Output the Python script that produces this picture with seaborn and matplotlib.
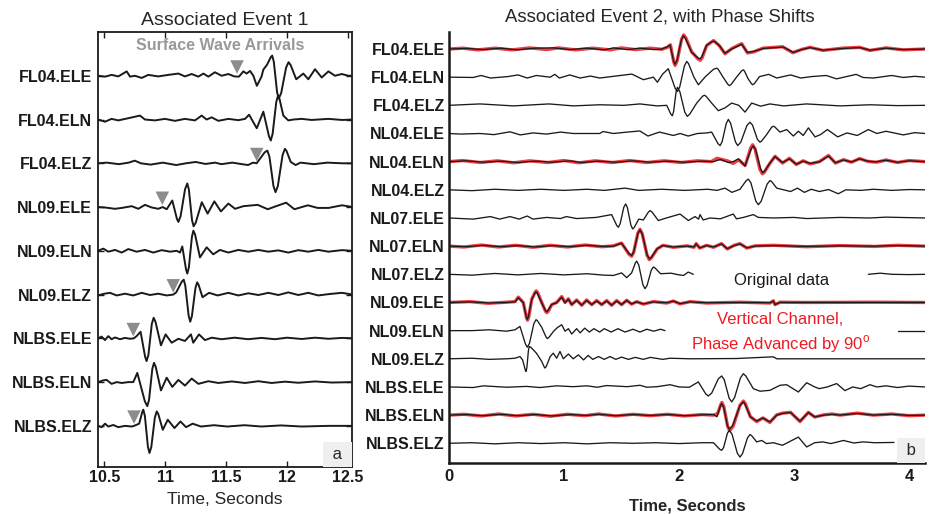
import matplotlib
matplotlib.use("Agg")
import matplotlib.pyplot as plt
from matplotlib.offsetbox import AnchoredText
import pandas as pd
import seaborn as sns

# ---------------------------------------------------------------- data
# Event 1 (panel a): channel names, top to bottom
E1_NAMES = ["FL04.ELE", "FL04.ELN", "FL04.ELZ", "NL09.ELE", "NL09.ELN",
            "NL09.ELZ", "NLBS.ELE", "NLBS.ELN", "NLBS.ELZ"]
# traces: (time s, amplitude in trace-spacing units, positive = up)
E1_FL04_ELE = [(10.45, 0), (10.506, -0.02), (10.56, 0.02), (10.615, -0.015), (10.684, 0.1), (10.711, -0.02),
               (10.752, 0), (10.807, -0.05), (10.861, 0.02), (10.943, -0.015), (11.025, 0.02), (11.108, 0.05),
               (11.162, -0.015), (11.217, 0.04), (11.272, -0.02), (11.313, 0.05), (11.354, -0.02), (11.408, 0.08),
               (11.463, 0), (11.518, 0.04), (11.567, -0.015), (11.605, -0.02), (11.641, 0.1), (11.668, 0.05),
               (11.696, 0.11), (11.723, 0), (11.752, -0.23), (11.79, -0.02), (11.805, 0.14), (11.835, 0.25),
               (11.867, 0.43), (11.878, 0.46), (11.891, 0.32), (11.918, -0.38), (11.931, -0.52), (11.951, -0.40),
               (11.992, 0.19), (12.012, 0.31), (12.028, 0.25), (12.075, -0.08), (12.133, 0.05), (12.174, -0.08),
               (12.229, 0.15), (12.284, -0.04), (12.339, 0.1), (12.393, 0), (12.448, 0.04), (12.503, 0), (12.54, 0)]
E1_FL04_ELN = [(10.45, 0), (10.506, -0.05), (10.56, 0.015), (10.615, -0.02), (10.697, 0.03), (10.793, 0.09),
               (10.834, 0), (10.916, -0.02), (10.998, 0.015), (11.08, -0.03), (11.162, 0.015), (11.244, -0.02),
               (11.299, 0.09), (11.34, 0), (11.381, 0.05), (11.436, -0.03), (11.518, 0.015), (11.6, -0.015),
               (11.655, 0.015), (11.688, 0.11), (11.751, -0.2), (11.805, 0.18), (11.851, -0.38), (11.866, -0.48),
               (11.881, -0.33), (11.911, 0.40), (11.926, 0.55), (11.937, 0.48), (11.969, 0.09), (12.01, -0.02),
               (12.052, 0.0), (12.12, 0.015), (12.202, -0.01), (12.339, 0.015), (12.45, -0.01), (12.54, 0)]
E1_FL04_ELZ = [(10.45, 0), (10.52, 0.015), (10.62, -0.02), (10.70, 0.015), (10.75, 0.06), (10.80, 0),
               (10.88, -0.03), (10.98, 0.015), (11.09, -0.04), (11.17, 0), (11.25, 0.03), (11.33, -0.015),
               (11.41, 0.015), (11.46, -0.02), (11.55, 0.015), (11.63, -0.02), (11.68, -0.04), (11.72, 0.015),
               (11.75, 0.0), (11.816, 0.25), (11.838, 0.29), (11.855, 0.15), (11.888, -0.52), (11.905, -0.66),
               (11.924, -0.52), (11.963, 0.19), (11.982, 0.33), (11.994, 0.29), (12.03, 0.03), (12.07, -0.04),
               (12.11, 0.015), (12.22, -0.02), (12.33, 0.015), (12.45, 0), (12.54, 0)]
E1_NL09_ELE = [(10.45, 0), (10.506, -0.01), (10.588, -0.04), (10.643, -0.02), (10.725, 0.02), (10.779, -0.04),
               (10.834, 0.05), (10.889, -0.01), (10.943, -0.04), (10.979, 0), (11.012, -0.05), (11.058, 0.15),
               (11.096, -0.27), (11.108, -0.34), (11.126, -0.21), (11.163, 0.41), (11.181, 0.54), (11.194, 0.40),
               (11.22, -0.30), (11.233, -0.44), (11.25, -0.36), (11.30, 0.11), (11.348, -0.15), (11.403, 0.13),
               (11.457, -0.1), (11.518, 0.08), (11.573, -0.04), (11.641, 0.02), (11.759, 0.05), (11.841, -0.05),
               (11.91, 0.02), (11.992, 0.1), (12.06, -0.05), (12.17, 0.04), (12.25, -0.02), (12.34, -0.02),
               (12.45, 0.04), (12.54, 0)]
E1_NL09_ELN = [(10.45, 0), (10.492, 0.05), (10.533, -0.02), (10.588, 0.02), (10.643, -0.04), (10.697, 0.04),
               (10.765, -0.02), (10.834, 0.02), (10.902, -0.04), (10.971, 0.015), (11.039, -0.02), (11.094, 0),
               (11.121, -0.04), (11.14, 0.1), (11.171, -0.43), (11.181, -0.52), (11.194, -0.38), (11.219, 0.32),
               (11.231, 0.46), (11.245, 0.37), (11.285, -0.15), (11.34, 0.08), (11.394, -0.08), (11.449, 0.02),
               (11.518, -0.04), (11.6, 0.02), (11.682, -0.02), (11.764, 0.02), (11.846, -0.02), (11.928, 0.01),
               (12.01, -0.04), (12.092, 0.015), (12.174, -0.02), (12.256, 0.02), (12.339, -0.02), (12.448, 0.015),
               (12.54, 0)]
E1_NL09_ELZ = [(10.45, -0.02), (10.492, 0.015), (10.546, 0.04), (10.602, -0.02), (10.67, 0.02), (10.738, -0.02),
               (10.807, 0.04), (10.875, -0.01), (10.943, 0.02), (11.012, -0.02), (11.066, 0), (11.09, 0.05),
               (11.137, 0.30), (11.152, 0.34), (11.165, 0.20), (11.192, -0.48), (11.205, -0.62), (11.219, -0.49),
               (11.248, 0.15), (11.262, 0.28), (11.273, 0.23), (11.306, -0.06), (11.36, 0.04), (11.43, -0.02),
               (11.518, 0.04), (11.6, -0.02), (11.682, 0.03), (11.764, -0.01), (11.846, 0.04), (11.928, -0.01),
               (12.01, 0.05), (12.092, -0.01), (12.174, 0.04), (12.256, -0.02), (12.339, 0.01), (12.448, 0.04),
               (12.54, 0)]
E1_NLBS_ELE = [(10.45, 0), (10.478, 0.04), (10.506, -0.04), (10.533, 0.05), (10.56, -0.02), (10.588, 0.02),
               (10.629, -0.02), (10.67, 0.01), (10.711, -0.01), (10.743, 0), (10.765, 0.05), (10.798, 0.15),
               (10.835, -0.42), (10.847, -0.52), (10.862, -0.38), (10.89, 0.33), (10.905, 0.47), (10.92, 0.38),
               (10.965, -0.16), (11.003, 0.09), (11.053, -0.1), (11.108, -0.01), (11.162, -0.06), (11.211, 0.09),
               (11.23, -0.1), (11.277, 0.09), (11.326, -0.04), (11.381, 0.015), (11.463, -0.02), (11.57, 0.015),
               (11.68, -0.02), (11.79, 0.01), (11.9, -0.02), (12.0, 0.015), (12.12, -0.015), (12.23, 0.015),
               (12.34, -0.01), (12.45, 0.01), (12.54, 0)]
E1_NLBS_ELN = [(10.45, 0), (10.492, 0.04), (10.519, 0.05), (10.56, -0.04), (10.602, 0), (10.643, -0.02),
               (10.697, 0), (10.738, 0), (10.771, 0.21), (10.833, -0.44), (10.853, -0.55), (10.867, -0.41),
               (10.894, 0.30), (10.908, 0.44), (10.922, 0.35), (10.965, -0.19), (11.012, 0.1), (11.058, -0.11),
               (11.108, 0.05), (11.162, -0.08), (11.217, 0.08), (11.272, -0.04), (11.354, 0.02), (11.436, -0.02),
               (11.546, 0.015), (11.655, -0.02), (11.764, 0.02), (11.873, -0.02), (11.982, 0.01), (12.092, -0.015),
               (12.229, 0.015), (12.366, -0.01), (12.54, 0)]
E1_NLBS_ELZ = [(10.45, 0), (10.478, -0.03), (10.506, 0.05), (10.533, -0.015), (10.574, 0.02), (10.615, -0.03),
               (10.67, 0), (10.725, -0.015), (10.744, 0), (10.786, 0.05), (10.812, 0.32), (10.82, 0.37),
               (10.833, 0.23), (10.858, -0.48), (10.871, -0.62), (10.886, -0.48), (10.915, 0.19), (10.93, 0.33),
               (10.943, 0.27), (10.98, -0.09), (11.021, 0.14), (11.076, -0.05), (11.125, 0.1), (11.171, -0.03),
               (11.225, 0.05), (11.293, -0.015), (11.4, 0.015), (11.51, -0.015), (11.65, 0.015), (11.79, -0.015),
               (11.95, 0.01), (12.12, -0.015), (12.34, 0), (12.54, 0)]
E1_TRACES = [E1_FL04_ELE, E1_FL04_ELN, E1_FL04_ELZ, E1_NL09_ELE, E1_NL09_ELN,
             E1_NL09_ELZ, E1_NLBS_ELE, E1_NLBS_ELN, E1_NLBS_ELZ]
# surface-wave arrival picks: (channel, time s)
E1_PICK_CHANNELS = ["FL04.ELE", "FL04.ELZ", "NL09.ELE", "NL09.ELZ", "NLBS.ELE", "NLBS.ELZ"]
E1_PICK_TIMES = [11.589, 11.751, 10.976, 11.066, 10.738, 10.744]
E1_TICKS = [10.5, 11, 11.5, 12, 12.5]
E1_TICK_LABELS = ["10.5", "11", "11.5", "12", "12.5"]

# Event 2 (panel b)
E2_NAMES = ["FL04.ELE", "FL04.ELN", "FL04.ELZ", "NL04.ELE", "NL04.ELN", "NL04.ELZ",
            "NL07.ELE", "NL07.ELN", "NL07.ELZ", "NL09.ELE", "NL09.ELN", "NL09.ELZ",
            "NLBS.ELE", "NLBS.ELN", "NLBS.ELZ"]
E2_FL04_ELE = [(0, 0), (0.15, 0.02), (0.3, -0.02), (0.45, 0.03), (0.59, -0.03), (0.75, 0.03), (0.91, 0.04),
               (1.05, -0.02), (1.2, 0.03), (1.35, -0.03), (1.43, 0.04), (1.55, -0.02), (1.66, 0.03), (1.78, -0.02),
               (1.85, 0.0), (1.893, 0.07), (1.922, 0.14), (1.954, -0.44), (1.965, -0.54), (1.983, -0.39),
               (2.02, 0.32), (2.038, 0.47), (2.056, 0.38), (2.11, -0.12), (2.165, -0.32), (2.183, -0.35),
               (2.198, -0.28), (2.241, 0.14), (2.285, 0.26), (2.299, 0.28), (2.312, 0.26), (2.351, 0.12),
               (2.4, -0.15), (2.458, 0), (2.545, 0.17), (2.594, -0.12), (2.646, -0.09), (2.733, 0.02), (2.907, 0.07),
               (2.994, -0.12), (3.067, -0.02), (3.139, 0.05), (3.255, -0.04), (3.429, 0.02), (3.574, 0.05),
               (3.661, -0.04), (3.8, 0.03), (3.95, -0.02), (4.14, 0)]
E2_FL04_ELN = [(0, 0), (0.21, -0.01), (0.28, 0.06), (0.36, -0.03), (0.51, 0.02), (0.60, 0.08), (0.68, -0.03),
               (0.76, 0.06), (0.88, 0.0), (0.92, 0.1), (0.96, -0.03), (1.05, 0.08), (1.14, -0.03), (1.23, 0.04),
               (1.31, -0.03), (1.43, 0.03), (1.59, 0.11), (1.69, -0.09), (1.777, 0.0), (1.812, -0.18),
               (1.858, 0.11), (1.907, 0.3), (1.966, -0.39), (1.986, -0.51), (2.006, -0.35), (2.047, 0.40),
               (2.067, 0.56), (2.083, 0.48), (2.13, 0.0), (2.168, -0.27), (2.23, 0.02), (2.30, 0.28), (2.328, 0.32),
               (2.341, 0.28), (2.38, 0.02), (2.424, -0.25), (2.438, -0.3), (2.453, -0.26), (2.5, 0.0),
               (2.544, 0.22), (2.559, 0.26), (2.569, 0.22), (2.6, -0.05), (2.63, -0.23), (2.64, -0.27),
               (2.655, -0.23), (2.7, 0.02), (2.78, 0.1), (2.85, -0.03), (2.97, 0.08), (3.06, -0.03), (3.15, 0.02),
               (3.28, 0.06), (3.37, -0.06), (3.54, 0.1), (3.6, -0.01), (3.69, -0.03), (3.85, 0.06), (3.95, -0.01),
               (4.05, 0.03), (4.14, 0)]
E2_FL04_ELZ = [(0, 0), (0.27, 0.05), (0.56, -0.02), (0.87, 0.05), (1.08, -0.02), (1.31, 0.02), (1.52, 0.0),
               (1.66, 0.05), (1.81, -0.02), (1.893, 0.0), (1.93, -0.32), (1.942, -0.37), (1.953, -0.22),
               (1.975, 0.49), (1.986, 0.64), (2.007, 0.49), (2.05, -0.24), (2.072, -0.39), (2.092, -0.32),
               (2.154, 0.08), (2.204, 0.32), (2.22, 0.36), (2.236, 0.32), (2.284, 0.08), (2.342, -0.19),
               (2.4, -0.09), (2.458, 0.08), (2.52, 0.0), (2.574, -0.24), (2.632, 0.08), (2.71, -0.03), (2.79, 0.05),
               (2.91, -0.02), (3.11, 0.05), (3.4, -0.02), (3.66, 0.02), (3.9, -0.01), (4.14, 0)]
E2_NL04_ELE = [(0, 0), (0.1, -0.02), (0.27, 0.0), (0.39, -0.04), (0.53, 0.06), (0.62, -0.05), (0.73, 0.02),
               (0.85, -0.02), (0.97, 0.05), (1.08, 0.0), (1.31, 0.0), (1.34, 0.07), (1.43, 0.0), (1.55, 0.05),
               (1.66, 0.09), (1.73, -0.09), (1.83, 0.05), (1.95, -0.07), (2.01, 0.0), (2.08, -0.09), (2.16, 0.0),
               (2.24, 0.02), (2.284, 0.05), (2.339, -0.36), (2.357, -0.43), (2.375, -0.29), (2.411, 0.36),
               (2.429, 0.5), (2.449, 0.36), (2.49, -0.29), (2.51, -0.43), (2.537, -0.31), (2.59, 0.28),
               (2.617, 0.4), (2.639, 0.30), (2.682, -0.21), (2.704, -0.31), (2.718, -0.27), (2.762, -0.04),
               (2.805, 0.22), (2.82, 0.26), (2.834, 0.23), (2.878, 0.05), (2.936, 0.14), (2.994, -0.09),
               (3.038, 0.08), (3.08, -0.07), (3.125, 0.2), (3.183, -0.12), (3.23, -0.04), (3.29, 0.14),
               (3.38, -0.12), (3.46, 0.02), (3.55, -0.07), (3.646, 0.14), (3.72, 0.0), (3.8, 0.08),
               (3.95, -0.05), (4.05, 0.03), (4.14, 0)]
E2_NL04_ELN = [(0, 0), (0.15, 0.03), (0.3, -0.02), (0.45, 0.02), (0.6, -0.03), (0.75, 0.02), (0.9, -0.02),
               (1.05, 0.03), (1.15, -0.03), (1.3, 0.02), (1.45, -0.02), (1.6, 0.03), (1.75, -0.02), (1.9, 0.02),
               (2.05, -0.02), (2.2, 0.02), (2.3, 0.0), (2.36, 0.08), (2.43, -0.03), (2.47, 0.0), (2.516, 0.1),
               (2.574, -0.15), (2.628, 0.46), (2.646, 0.56), (2.667, 0.42), (2.708, -0.25), (2.728, -0.39),
               (2.744, -0.34), (2.79, -0.05), (2.835, 0.18), (2.9, -0.03), (2.96, 0.1), (3.02, -0.09), (3.08, 0.02),
               (3.14, -0.06), (3.22, -0.01), (3.3, 0.2), (3.36, -0.04), (3.43, 0.06), (3.5, -0.01), (3.57, 0.1),
               (3.64, 0.02), (3.7, -0.01), (3.8, 0.05), (3.9, -0.02), (4.0, 0.03), (4.14, 0)]
E2_NL04_ELZ = [(0, 0), (0.2, -0.03), (0.4, 0.02), (0.6, -0.02), (0.8, 0.02), (1.0, -0.02), (1.2, 0.02),
               (1.35, -0.02), (1.53, 0.06), (1.65, -0.02), (1.85, 0.02), (2.05, -0.02), (2.25, 0.02), (2.33, -0.02),
               (2.4, 0.06), (2.46, -0.09), (2.53, 0.02), (2.585, 0.33), (2.603, 0.38), (2.625, 0.25),
               (2.668, -0.40), (2.69, -0.53), (2.715, -0.40), (2.766, 0.20), (2.791, 0.33), (2.806, 0.29),
               (2.85, 0.06), (2.92, -0.01), (2.97, -0.06), (3.03, 0.06), (3.09, -0.09), (3.15, 0.02), (3.22, -0.06),
               (3.3, 0.01), (3.385, -0.14), (3.45, 0.0), (3.58, -0.02), (3.69, 0.02), (3.85, -0.02), (4.0, 0.01),
               (4.14, 0)]
E2_NL07_ELE = [(0, 0), (0.21, -0.04), (0.36, 0.05), (0.44, -0.04), (0.53, 0.05), (0.61, -0.04), (0.68, 0.07),
               (0.73, -0.04), (0.85, 0.02), (0.97, -0.02), (1.02, 0.05), (1.11, -0.02), (1.28, 0.02),
               (1.414, 0.12), (1.458, -0.26), (1.472, -0.33), (1.488, -0.21), (1.52, 0.38), (1.536, 0.5),
               (1.551, 0.37), (1.582, -0.26), (1.597, -0.39), (1.61, -0.34), (1.65, -0.04), (1.69, -0.07),
               (1.734, 0.21), (1.748, 0.26), (1.766, 0.21), (1.82, -0.09), (1.89, 0.0), (2.009, 0.14),
               (2.081, -0.09), (2.14, 0.05), (2.17, -0.04), (2.183, 0.12), (2.21, -0.07), (2.27, 0.0), (2.36, -0.03),
               (2.472, 0.14), (2.5, -0.03), (2.56, 0.02), (2.646, 0.12), (2.69, 0.02), (2.82, 0.0), (3.0, 0.02),
               (3.11, -0.02), (3.4, 0.02), (3.66, 0.0), (3.8, 0.03), (4.14, 0)]
E2_NL07_ELN = [(0, 0), (0.15, -0.02), (0.3, 0.03), (0.45, -0.02), (0.6, 0.02), (0.75, -0.03), (0.9, 0.02),
               (1.05, -0.02), (1.2, 0.03), (1.35, -0.01), (1.43, 0.0), (1.47, 0.06), (1.501, 0.1), (1.566, -0.27),
               (1.588, -0.33), (1.606, -0.20), (1.643, 0.45), (1.661, 0.58), (1.681, 0.43), (1.722, -0.30),
               (1.742, -0.45), (1.759, -0.40), (1.81, -0.09), (1.86, 0.02), (1.95, -0.03), (2.07, 0.0),
               (2.13, -0.03), (2.148, 0.08), (2.18, -0.06), (2.24, 0.02), (2.3, -0.03), (2.37, 0.08), (2.42, -0.09),
               (2.48, 0.02), (2.53, 0.08), (2.59, -0.06), (2.66, 0.0), (2.82, 0.02), (3.11, -0.01), (3.4, 0.01),
               (3.7, 0.0), (3.9, 0.02), (4.14, 0)]
# None marks a gap in the drawn trace (hidden behind the annotation)
E2_NL07_ELZ = [(0, 0), (0.2, -0.03), (0.4, 0.03), (0.6, -0.02), (0.8, 0.03), (1.0, -0.02), (1.2, 0.02),
               (1.35, -0.03), (1.43, -0.04), (1.501, 0.05), (1.545, -0.12), (1.588, 0.05), (1.621, 0.41),
               (1.632, 0.47), (1.65, 0.33), (1.686, -0.37), (1.704, -0.51), (1.722, -0.40), (1.759, 0.15),
               (1.777, 0.26), (1.793, 0.22), (1.84, 0.02), (1.93, 0.04), (2.0, -0.02), (2.04, -0.04),
               (2.08, 0.08), (2.125, 0.0), None, (3.646, 0.0), (3.75, 0.04), (3.85, 0.0), (4.0, -0.01), (4.14, 0.0)]
E2_NL09_ELE = [(0, 0), (0.2, 0.02), (0.35, -0.02), (0.501, 0.0), (0.574, 0.02), (0.603, 0.17), (0.646, -0.01),
               (0.672, -0.51), (0.681, -0.6), (0.691, -0.50), (0.719, 0.1), (0.748, 0.34), (0.757, 0.38),
               (0.769, 0.32), (0.806, -0.01), (0.838, -0.28), (0.849, -0.33), (0.86, -0.29), (0.893, -0.07),
               (0.936, -0.01), (0.98, 0.19), (1.009, -0.01), (1.038, 0.11), (1.067, -0.07), (1.11, 0.07),
               (1.154, -0.09), (1.197, 0.07), (1.241, -0.07), (1.284, 0.05), (1.328, -0.07), (1.371, 0.05),
               (1.414, -0.09), (1.458, 0.05), (1.501, -0.07), (1.545, 0.07), (1.588, -0.05), (1.632, 0.02),
               (1.69, -0.05), (1.777, 0.02), (1.893, -0.01), (1.951, 0.05), (2.009, -0.04), (2.096, 0.02),
               (2.241, -0.01), (2.53, 0.0), (2.791, -0.01), (2.82, 0.05), (2.835, -0.07), (2.878, 0.0),
               (3.11, 0.0), (3.69, 0.0), (4.14, 0)]
E2_NL09_ELN = [(0, 0), (0.2, 0.0), (0.35, 0.03), (0.5, -0.02), (0.574, 0.03), (0.617, 0.15), (0.665, -0.48),
               (0.681, -0.59), (0.7, -0.45), (0.738, 0.25), (0.757, 0.39), (0.769, 0.35), (0.806, 0.12),
               (0.843, -0.22), (0.855, -0.28), (0.869, -0.24), (0.91, -0.02), (0.94, 0.1), (0.98, 0.21),
               (1.009, -0.02), (1.038, 0.07), (1.067, -0.12), (1.11, 0.07), (1.14, -0.08), (1.18, 0.09),
               (1.22, -0.05), (1.26, 0.07), (1.31, -0.05), (1.35, 0.07), (1.41, -0.05), (1.47, 0.07),
               (1.53, -0.05), (1.6, 0.05), (1.66, -0.05), (1.72, 0.05), (1.78, -0.02), (1.84, 0.05),
               (1.878, 0.0), None, (3.905, 0.0), (4.14, 0.0)]
E2_NL09_ELZ = [(0, 0), (0.2, 0.02), (0.35, -0.02), (0.5, 0.0), (0.574, 0.02), (0.617, 0.08), (0.64, -0.04),
               (0.663, -0.39), (0.67, -0.45), (0.677, -0.32), (0.691, 0.31), (0.698, 0.44), (0.714, 0.40),
               (0.76, 0.2), (0.806, -0.09), (0.828, -0.29), (0.835, -0.33), (0.846, -0.27), (0.88, 0.08),
               (0.907, 0.2), (0.936, 0.02), (0.965, 0.26), (0.994, 0.0), (1.038, 0.17), (1.08, 0.0),
               (1.125, 0.14), (1.17, -0.04), (1.21, 0.12), (1.25, -0.02), (1.3, 0.08), (1.35, -0.02), (1.4, 0.08),
               (1.45, -0.02), (1.5, 0.06), (1.56, -0.02), (1.62, 0.05), (1.69, -0.02), (1.75, 0.05), (1.86, -0.02),
               (1.92, 0.02), (2.1, 0.0), (2.5, 0.01), (2.82, 0.07), (2.85, 0.0), (3.3, 0.0), (4.14, 0)]
E2_NLBS_ELE = [(0, 0), (0.21, -0.02), (0.3, 0.04), (0.5, -0.01), (0.675, 0.02), (0.79, -0.02), (0.936, 0.04),
               (1.08, 0.01), (1.2, 0.04), (1.29, -0.01), (1.37, 0.05), (1.55, 0.01), (1.66, 0.06), (1.72, -0.01),
               (1.81, 0.01), (1.922, 0.08), (2.0, 0.0), (2.09, -0.01), (2.168, 0.18), (2.233, -0.25),
               (2.255, -0.32), (2.284, -0.22), (2.342, 0.29), (2.371, 0.39), (2.393, 0.26), (2.436, -0.40),
               (2.458, -0.53), (2.483, -0.38), (2.534, 0.32), (2.559, 0.47), (2.581, 0.39), (2.646, -0.06),
               (2.704, -0.15), (2.79, -0.12), (2.878, 0.06), (2.936, 0.08), (3.038, -0.18), (3.11, 0.15),
               (3.18, 0.0), (3.22, -0.06), (3.29, 0.0), (3.371, 0.12), (3.443, -0.13), (3.51, 0.0), (3.58, -0.06),
               (3.66, 0.08), (3.72, 0.0), (3.8, 0.04), (3.9, -0.02), (4.0, 0.03), (4.14, 0)]
E2_NLBS_ELN = [(0, 0), (0.15, 0.02), (0.3, -0.02), (0.45, 0.03), (0.6, -0.02), (0.75, 0.02), (0.9, -0.03),
               (1.05, 0.02), (1.2, -0.01), (1.3, 0.03), (1.45, -0.02), (1.6, 0.02), (1.75, -0.01), (1.9, 0.02),
               (2.05, -0.02), (2.2, 0.01), (2.3, 0.02), (2.33, -0.06), (2.361, 0.34), (2.371, 0.41), (2.388, 0.28),
               (2.421, -0.37), (2.438, -0.5), (2.468, -0.36), (2.529, 0.33), (2.559, 0.47), (2.574, 0.39),
               (2.62, -0.06), (2.675, -0.21), (2.73, -0.1), (2.79, -0.24), (2.85, 0.0), (2.9, 0.06), (2.97, 0.09),
               (3.052, -0.21), (3.125, 0.09), (3.18, -0.06), (3.26, 0.0), (3.33, 0.03), (3.4, 0.0), (3.55, 0.06),
               (3.69, 0.0), (3.85, 0.03), (4.0, -0.01), (4.14, 0)]
E2_NLBS_ELZ = [(0, 0), (0.2, 0.02), (0.4, -0.02), (0.6, 0.02), (0.8, -0.01), (1.0, 0.02), (1.2, -0.02),
               (1.4, 0.02), (1.6, 0.0), (1.8, 0.02), (2.0, -0.01), (2.2, 0.02), (2.3, 0.02), (2.353, -0.21),
               (2.371, -0.25), (2.388, -0.15), (2.421, 0.36), (2.438, 0.46), (2.461, 0.32), (2.507, -0.35),
               (2.53, -0.49), (2.552, -0.37), (2.595, 0.19), (2.617, 0.31), (2.632, 0.27), (2.675, 0.05),
               (2.72, 0.1), (2.76, -0.01), (2.82, 0.02), (2.9, -0.07), (3.038, 0.22), (3.11, -0.13), (3.18, 0.02),
               (3.25, 0.05), (3.32, -0.01), (3.43, 0.1), (3.52, 0.01), (3.6, 0.05), (3.7, 0.02), (3.87, 0.03)]
E2_TRACES = [E2_FL04_ELE, E2_FL04_ELN, E2_FL04_ELZ, E2_NL04_ELE, E2_NL04_ELN, E2_NL04_ELZ,
             E2_NL07_ELE, E2_NL07_ELN, E2_NL07_ELZ, E2_NL09_ELE, E2_NL09_ELN, E2_NL09_ELZ,
             E2_NLBS_ELE, E2_NLBS_ELN, E2_NLBS_ELZ]

# vertical channel, phase advanced by 90 deg (red overlays)
E2_SHIFT_CHANNELS = ["FL04.ELE", "NL04.ELN", "NL07.ELN", "NL09.ELE", "NLBS.ELN"]
SH_FL04 = [(0, 0), (0.12, 0.03), (0.25, -0.03), (0.4, 0.03), (0.55, -0.03), (0.7, 0.04), (0.85, -0.02),
           (0.95, 0.04), (1.1, -0.03), (1.25, 0.03), (1.4, -0.03), (1.5, 0.04), (1.62, -0.02), (1.75, 0.03),
           (1.85, -0.01), (1.9, 0.06), (1.925, 0.15), (1.955, -0.47), (1.966, -0.58), (1.984, -0.42),
           (2.022, 0.34), (2.04, 0.5), (2.058, 0.41), (2.11, -0.1), (2.167, -0.36), (2.185, -0.4), (2.2, -0.32),
           (2.24, 0.12), (2.3, 0.3), (2.35, 0.12), (2.4, -0.17), (2.46, 0.02), (2.545, 0.19), (2.595, -0.14),
           (2.65, -0.1), (2.73, 0.03), (2.9, 0.08), (2.99, -0.13), (3.07, -0.01), (3.14, 0.06), (3.25, -0.05),
           (3.42, 0.03), (3.57, 0.06), (3.66, -0.05), (3.8, 0.04), (3.95, -0.03), (4.14, 0)]
SH_NL04 = [(0, 0), (0.12, 0.04), (0.27, -0.03), (0.42, 0.03), (0.56, -0.04), (0.7, 0.03), (0.86, -0.03),
           (1.0, 0.04), (1.13, -0.04), (1.27, 0.03), (1.42, -0.03), (1.57, 0.04), (1.72, -0.03), (1.87, 0.03),
           (2.02, -0.03), (2.16, 0.03), (2.28, 0.0), (2.33, 0.12), (2.42, 0.03), (2.47, -0.06), (2.52, 0.06),
           (2.575, -0.14), (2.624, 0.49), (2.64, 0.6), (2.661, 0.45), (2.704, -0.28), (2.725, -0.43),
           (2.741, -0.38), (2.79, -0.06), (2.835, 0.19), (2.9, -0.05), (2.96, 0.12), (3.02, -0.1), (3.08, 0.03),
           (3.14, -0.08), (3.22, 0.0), (3.3, 0.22), (3.36, -0.05), (3.43, 0.07), (3.5, -0.02), (3.57, 0.11),
           (3.64, 0.01), (3.72, -0.02), (3.8, 0.06), (3.9, -0.03), (4.0, 0.04), (4.14, 0)]
SH_NL07 = [(0, 0), (0.13, -0.03), (0.28, 0.04), (0.43, -0.03), (0.58, 0.03), (0.73, -0.04), (0.88, 0.03),
           (1.03, -0.03), (1.18, 0.04), (1.33, -0.02), (1.43, 0.01), (1.47, 0.07), (1.5, 0.11), (1.566, -0.29),
           (1.588, -0.36), (1.606, -0.22), (1.642, 0.46), (1.66, 0.6), (1.68, 0.44), (1.722, -0.32),
           (1.742, -0.48), (1.759, -0.42), (1.81, -0.1), (1.86, 0.03), (1.95, -0.04), (2.07, 0.01),
           (2.13, -0.04), (2.15, 0.09), (2.18, -0.07), (2.24, 0.03), (2.3, -0.04), (2.37, 0.09), (2.42, -0.1),
           (2.48, 0.03), (2.53, 0.09), (2.59, -0.07), (2.66, 0.01), (2.82, 0.03), (3.11, -0.02), (3.4, 0.02),
           (3.7, -0.01), (3.9, 0.03), (4.14, 0)]
SH_NL09 = [(0, 0), (0.18, 0.03), (0.34, -0.03), (0.5, 0.01), (0.574, 0.03), (0.603, 0.19), (0.646, 0.0),
           (0.674, -0.54), (0.683, -0.63), (0.693, -0.52), (0.72, 0.12), (0.749, 0.37), (0.759, 0.41),
           (0.771, 0.35), (0.806, 0.0), (0.839, -0.31), (0.85, -0.36), (0.861, -0.32), (0.893, -0.08),
           (0.936, 0.0), (0.98, 0.21), (1.009, 0.0), (1.038, 0.13), (1.067, -0.08), (1.11, 0.09), (1.154, -0.1),
           (1.197, 0.09), (1.241, -0.08), (1.284, 0.07), (1.328, -0.08), (1.371, 0.07), (1.414, -0.1),
           (1.458, 0.07), (1.501, -0.08), (1.545, 0.08), (1.588, -0.06), (1.632, 0.03), (1.69, -0.06),
           (1.777, 0.03), (1.893, -0.02), (1.951, 0.05), (2.009, -0.05), (2.096, 0.03), (2.241, -0.02),
           (2.53, 0.01), (2.791, -0.02), (2.82, 0.06), (2.835, -0.08), (2.878, 0.01), (3.11, 0.0), (3.69, 0.01),
           (4.14, 0)]
SH_NLBS = [(0, 0), (0.13, 0.03), (0.28, -0.03), (0.43, 0.04), (0.58, -0.03), (0.73, 0.03), (0.88, -0.04),
           (1.03, 0.03), (1.18, -0.02), (1.3, 0.04), (1.45, -0.03), (1.6, 0.03), (1.75, -0.02), (1.9, 0.03),
           (2.05, -0.03), (2.2, 0.02), (2.3, 0.0), (2.335, 0.05), (2.363, 0.37), (2.373, 0.45), (2.39, 0.30),
           (2.423, -0.40), (2.44, -0.55), (2.47, -0.40), (2.53, 0.35), (2.56, 0.5), (2.575, 0.42), (2.62, -0.05),
           (2.675, -0.23), (2.73, -0.1), (2.79, -0.26), (2.85, 0.01), (2.9, 0.07), (2.97, 0.1), (3.052, -0.23),
           (3.125, 0.1), (3.18, -0.07), (3.26, 0.01), (3.33, 0.04), (3.4, 0.0), (3.55, 0.07), (3.69, 0.0),
           (3.85, 0.04), (4.0, -0.02), (4.14, 0)]
E2_SHIFT_TRACES = [SH_FL04, SH_NL04, SH_NL07, SH_NL09, SH_NLBS]
E2_TICKS = [0, 1, 2, 3, 4]

# ---------------------------------------------------------------- style
sns.set_theme(style="white")
plt.rcParams["font.family"] = ["Liberation Sans", "DejaVu Sans"]
plt.rcParams["mathtext.fontset"] = "custom"
plt.rcParams["mathtext.rm"] = "Liberation Sans"
LABEL_SIZE = 11.5
RED = "#ed1c24"
INK = "#1a1a1a"


def to_frame(names, traces, rows_of=None):
    rows = []
    for name, tr in zip(names, traces):
        pos = (rows_of or names).index(name) + 1
        seg = 0
        for p in tr:
            if p is None:
                seg += 1
                continue
            rows.append({"key": f"{name}#{seg}", "t": p[0], "y": pos - p[1]})
    return pd.DataFrame(rows)


fig = plt.figure(figsize=(9.32, 5.14), dpi=100)
ax1 = fig.add_axes([97.7 / 932, 1 - 467 / 514, 254 / 932, 435 / 514])
ax2 = fig.add_axes([449 / 932, 1 - 463 / 514, 476 / 932, 431 / 514])

# ---------------- panel a
df1 = to_frame(E1_NAMES, E1_TRACES)
sns.lineplot(data=df1, x="t", y="y", units="key", estimator=None, sort=False,
             color=INK, linewidth=1.4, ax=ax1, legend=False, solid_joinstyle="round")
pick_df = pd.DataFrame({"t": E1_PICK_TIMES,
                        "y": [E1_NAMES.index(c) + 1 - 0.2 for c in E1_PICK_CHANNELS]})
sns.scatterplot(data=pick_df, x="t", y="y", marker="v", s=95, color="#8c8c8c",
                edgecolor="none", ax=ax1, zorder=4, legend=False)
ax1.set_xlim(10.446, 12.53)
ax1.set_ylim(9.94, 0)
ax1.set_yticks(range(1, len(E1_NAMES) + 1))
ax1.set_yticklabels(E1_NAMES, fontweight="bold", fontsize=LABEL_SIZE)
ax1.set_xticks(E1_TICKS)
ax1.set_xticklabels(E1_TICK_LABELS, fontweight="bold", fontsize=11.5)
ax1.tick_params(axis="y", left=True, right=True, direction="in", length=4, width=1.0, pad=4, colors=INK)
ax1.tick_params(axis="x", top=True, bottom=True, direction="in", length=4, width=1.0, pad=2, colors=INK)
for s in ax1.spines.values():
    s.set_linewidth(1.3)
    s.set_color(INK)
ax1.set_xlabel("Time, Seconds", fontsize=12.5, labelpad=5)
ax1.set_ylabel("")
ax1.set_title("Associated Event 1", fontsize=14, pad=5)
ax1.text(0.481, 0.970, "Surface Wave Arrivals", transform=ax1.transAxes, ha="center", va="center",
         fontsize=11.5, fontweight="bold", color="#999999")
at1 = AnchoredText(" a ", loc="lower right", frameon=True, borderpad=0, pad=0.3, prop={"size": 12})
at1.patch.set_facecolor("#efefef")
at1.patch.set_edgecolor("none")
ax1.add_artist(at1)

# ---------------- panel b
df_red = to_frame(E2_SHIFT_CHANNELS, E2_SHIFT_TRACES, rows_of=E2_NAMES)
sns.lineplot(data=df_red, x="t", y="y", units="key", estimator=None, sort=False,
             color=RED, alpha=0.85, linewidth=2.4, ax=ax2, legend=False, zorder=2,
             solid_joinstyle="round")
df2 = to_frame(E2_NAMES, E2_TRACES)
sns.lineplot(data=df2, x="t", y="y", units="key", estimator=None, sort=False,
             color=INK, linewidth=0.95, ax=ax2, legend=False, zorder=3, solid_joinstyle="round")
ax2.set_xlim(0, 4.139)
ax2.set_ylim(15.70, 0.396)
ax2.set_yticks(range(1, len(E2_NAMES) + 1))
ax2.set_yticklabels(E2_NAMES, fontweight="bold", fontsize=LABEL_SIZE)
ax2.set_xticks(E2_TICKS)
ax2.set_xticklabels([str(v) for v in E2_TICKS], fontweight="bold", fontsize=12)
sns.despine(ax=ax2)
for s in ("left", "bottom"):
    ax2.spines[s].set_linewidth(1.8)
    ax2.spines[s].set_color(INK)
ax2.tick_params(axis="x", direction="in", length=5, width=1.5, pad=4, colors=INK)
ax2.tick_params(axis="y", direction="in", length=3, width=1.2, pad=3, colors=INK)
ax2.set_xlabel("Time, Seconds", fontsize=12, fontweight="bold", labelpad=11)
ax2.set_ylabel("")
fig.text(660 / 932, 1 - 17 / 514, "Associated Event 2, with Phase Shifts", ha="center", va="center",
         fontsize=13.3)
ax2.text(2.89, 9.22, "Original data", ha="center", va="center", fontsize=12, color=INK)
ax2.text(2.88, 11.1, "Vertical Channel,\nPhase Advanced by 90$^{\\mathrm{o}}$", ha="center", va="center",
         fontsize=12, color=RED, linespacing=1.35)
at2 = AnchoredText(" b ", loc="lower right", frameon=True, borderpad=0, pad=0.3, prop={"size": 12})
at2.patch.set_facecolor("#efefef")
at2.patch.set_edgecolor("none")
at2.set_zorder(6)
ax2.add_artist(at2)

fig.savefig("out.png", dpi=100)
